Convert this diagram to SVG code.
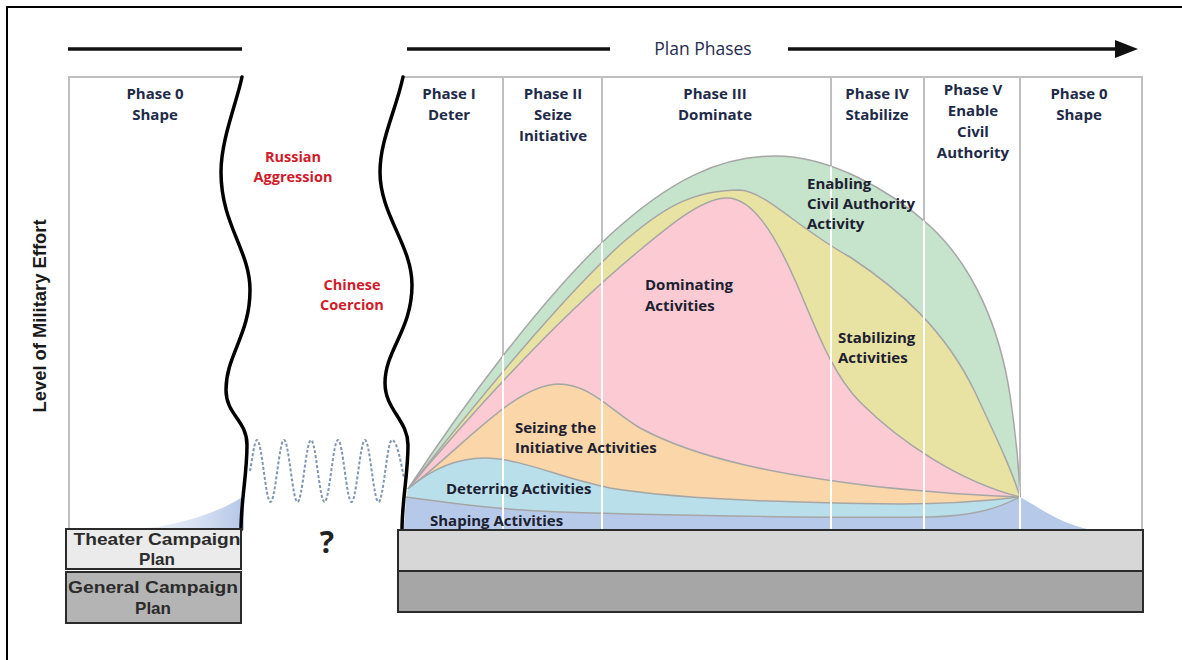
<svg xmlns="http://www.w3.org/2000/svg" width="1182" height="660" viewBox="0 0 1182 660">
  <style>
    .ph{font-family:"Open Sans","Noto Sans",sans-serif;font-weight:700;font-size:15px;fill:#1d2a48;text-anchor:middle}
    .act{font-family:"Open Sans","Noto Sans",sans-serif;font-weight:700;font-size:15px;fill:#1c2030}
    .red{font-family:"Open Sans","Noto Sans",sans-serif;font-weight:700;font-size:14.5px;fill:#d11a2a;text-anchor:middle}
    .col{stroke:#bfbfbf;stroke-width:2;fill:none}
    .cut{stroke:#ffffff;stroke-width:2;fill:none}
    .edge{fill:none;stroke:#a6a6a6;stroke-width:1.5}
    .wavy{fill:none;stroke:#000;stroke-width:3.5;stroke-linecap:round}
    .bar{stroke:#111;stroke-width:3.5;fill:none}
    .plan{font-family:"Liberation Sans Narrow","Liberation Sans",sans-serif;font-weight:700;font-size:17px;fill:#2b2b2b;text-anchor:middle}
    .box{stroke:#2a2a2a;stroke-width:2}
  </style>
  <defs>
    <marker id="head" markerUnits="userSpaceOnUse" markerWidth="24" markerHeight="20" refX="3" refY="9" orient="auto">
      <path d="M0,0 L23,9 L0,18 Z" fill="#111"/>
    </marker>
    <linearGradient id="tailFade" x1="125" y1="0" x2="244" y2="0" gradientUnits="userSpaceOnUse">
      <stop offset="0" stop-color="#dfe7f4" stop-opacity="0.3"/>
      <stop offset="1" stop-color="#b4c7e7"/>
    </linearGradient>
    <clipPath id="envelope">
      <path d="M408,489 C460,410 540,300 610,235 C670,180 720,156 775,156 C830,156 890,190 930,226 C975,268 1000,330 1010,395 C1016,435 1019,470 1020,497 C1040,508 1060,524 1092,530 L404,530 Z"/>
    </clipPath>
  </defs>

  <rect x="0" y="0" width="1182" height="660" fill="#fff"/>
  <rect id="frame" x="7" y="7" width="1195" height="700" fill="none" stroke="#000" stroke-width="2"/>

  <!-- phase grid -->
  <g id="phase-grid">
    <path class="col" d="M69,530 V77 H242"/>
    <path class="col" d="M403,77 H1142 V530"/>
    <path class="col" d="M503,77 V530 M602,77 V530 M831,77 V530 M924,77 V530 M1020,77 V530"/>
  </g>

  <!-- effort areas, back to front -->
  <g id="area-enabling">
    <path fill="#c6e3cc" d="M408,489 C460,410 540,300 610,235 C670,180 720,156 775,156 C830,156 890,190 930,226 C975,268 1000,330 1010,395 C1016,435 1019,470 1020,497 L1020,530 L404,530 Z"/>
    <path class="edge" d="M408,489 C460,410 540,300 610,235 C670,180 720,156 775,156 C830,156 890,190 930,226 C975,268 1000,330 1010,395 C1016,435 1019,470 1020,497"/>
  </g>
  <g id="area-stabilizing">
    <path fill="#e9e3a3" d="M408,489 C470,410 560,300 620,245 C660,210 690,190 740,190 C765,191 800,230 850,257 C900,290 945,330 975,392 C995,435 1012,470 1020,497 L1020,530 L404,530 Z"/>
    <path class="edge" d="M408,489 C470,410 560,300 620,245 C660,210 690,190 740,190 C765,191 800,230 850,257 C900,290 945,330 975,392 C995,435 1012,470 1020,497"/>
  </g>
  <g id="area-dominating">
    <path fill="#fbcad2" d="M408,489 C470,415 555,320 640,250 C670,225 700,200 725,198 C752,196 775,235 795,280 C812,318 830,372 860,402 C900,442 960,482 1020,497 L1020,530 L404,530 Z"/>
    <path class="edge" d="M408,489 C470,415 555,320 640,250 C670,225 700,200 725,198 C752,196 775,235 795,280 C812,318 830,372 860,402 C900,442 960,482 1020,497"/>
  </g>
  <g id="area-seizing">
    <path fill="#fad6a8" d="M408,489 C465,445 515,385 558,384 C590,384 610,410 640,428 C700,460 780,475 880,487 C950,494 990,496 1020,497 L1020,530 L404,530 Z"/>
    <path class="edge" d="M408,489 C465,445 515,385 558,384 C590,384 610,410 640,428 C700,460 780,475 880,487 C950,494 990,496 1020,497"/>
  </g>
  <g id="area-deterring">
    <path fill="#b9dfea" d="M408,489 C430,470 455,458 485,458 C520,458 560,478 610,488 C680,500 800,503 900,504 C960,504 995,500 1020,497 L1020,530 L404,530 Z"/>
    <path class="edge" d="M408,489 C430,470 455,458 485,458 C520,458 560,478 610,488 C680,500 800,503 900,504 C960,504 995,500 1020,497"/>
  </g>
  <g id="area-shaping">
    <path fill="#b6c9e8" d="M406,497 C450,503 500,510 560,512 C680,516 850,518 930,517 C970,516 995,510 1020,497 C1040,508 1060,524 1092,530 L404,530 Z"/>
    <path class="edge" d="M406,497 C450,503 500,510 560,512 C680,516 850,518 930,517 C970,516 995,510 1020,497"/>
    <path fill="url(#tailFade)" d="M125,530 C165,528 210,518 244,496 L244,530 Z"/>
  </g>

  <!-- phase dividers show white across the filled areas -->
  <g clip-path="url(#envelope)">
    <path class="cut" d="M503,77 V530 M602,77 V530 M831,77 V530 M924,77 V530 M1020,77 V530"/>
  </g>

  <!-- activity labels -->
  <g id="labels-activities">
    <text class="act" x="807" y="189">Enabling</text>
    <text class="act" x="807" y="209">Civil Authority</text>
    <text class="act" x="807" y="229">Activity</text>
    <text class="act" x="645" y="290">Dominating</text>
    <text class="act" x="645" y="311">Activities</text>
    <text class="act" x="838" y="343">Stabilizing</text>
    <text class="act" x="838" y="363">Activities</text>
    <text class="act" x="515" y="433">Seizing the</text>
    <text class="act" x="515" y="453">Initiative Activities</text>
    <text class="act" x="446" y="494">Deterring Activities</text>
    <text class="act" x="430" y="526">Shaping Activities</text>
  </g>

  <!-- gap between the two plans -->
  <g id="gap">
    <path fill="none" stroke="#7f95b0" stroke-width="2" stroke-dasharray="3,2" d="M250,471 C252.4,458 254.5,440 257,440 C261.9,440 265.6,502 270.5,502 S279.1,440 284,440 S292.6,502 297.5,502 S306.1,440 311,440 S319.6,502 324.5,502 S333.1,440 338,440 S346.6,502 351.5,502 S360.1,440 365,440 S373.6,502 378.5,502 S387.1,440 392,440 C396.9,440 401,463 404,478"/>
    <path class="wavy" d="M242,77 C236,105 221,140 221,172 C221,225 250,250 250,290 C250,335 226,355 226,390 C226,415 247,420 247,445 C247,475 241,500 241,530"/>
    <path class="wavy" d="M403,77 C396,110 380,140 380,172 C380,215 412,245 412,285 C412,330 385,350 385,383 C385,410 408,420 408,445 C408,475 402,500 402,530"/>
    <text class="red" x="293" y="162">Russian</text>
    <text class="red" x="293" y="182">Aggression</text>
    <text class="red" x="352" y="290">Chinese</text>
    <text class="red" x="352" y="310">Coercion</text>
    <text x="327" y="553" font-family="'Open Sans','Noto Sans',sans-serif" font-weight="700" font-size="30" fill="#222" text-anchor="middle">?</text>
  </g>

  <!-- phase headings -->
  <g id="phase-0-left"><text class="ph" x="155" y="99">Phase 0</text><text class="ph" x="155" y="120">Shape</text></g>
  <g id="phase-1"><text class="ph" x="449" y="99">Phase I</text><text class="ph" x="449" y="120">Deter</text></g>
  <g id="phase-2"><text class="ph" x="553" y="99">Phase II</text><text class="ph" x="553" y="120">Seize</text><text class="ph" x="553" y="141">Initiative</text></g>
  <g id="phase-3"><text class="ph" x="715" y="99">Phase III</text><text class="ph" x="715" y="120">Dominate</text></g>
  <g id="phase-4"><text class="ph" x="877" y="99">Phase IV</text><text class="ph" x="877" y="120">Stabilize</text></g>
  <g id="phase-5"><text class="ph" x="973" y="95">Phase V</text><text class="ph" x="973" y="116">Enable</text><text class="ph" x="973" y="137">Civil</text><text class="ph" x="973" y="158">Authority</text></g>
  <g id="phase-0-right"><text class="ph" x="1079" y="99">Phase 0</text><text class="ph" x="1079" y="120">Shape</text></g>

  <!-- axis -->
  <g id="axis">
    <text transform="translate(46,316) rotate(-90)" font-family="'Liberation Sans Narrow','Liberation Sans',sans-serif" font-weight="700" font-size="18" fill="#1a1a1a" text-anchor="middle" textLength="193" lengthAdjust="spacingAndGlyphs">Level of Military Effort</text>
  </g>

  <!-- plan bars and phase arrow -->
  <g id="connectors">
    <line class="bar" x1="68" y1="49" x2="242" y2="49"/>
    <line class="bar" x1="407" y1="49" x2="610" y2="49"/>
    <line class="bar" x1="788" y1="49" x2="1118" y2="49" marker-end="url(#head)"/>
  </g>
  <g id="plan-phases">
    <text x="703" y="55" font-family="'Open Sans','Noto Sans',sans-serif" font-size="17.5" fill="#1f2b4c" text-anchor="middle">Plan Phases</text>
  </g>

  <!-- campaign plan boxes -->
  <g id="theater-plan">
    <rect class="box" x="66" y="529" width="175" height="40" fill="#ebebeb"/>
    <text class="plan" x="157" y="545" textLength="167" lengthAdjust="spacingAndGlyphs">Theater Campaign</text>
    <text class="plan" x="157" y="565">Plan</text>
  </g>
  <g id="general-plan">
    <rect class="box" x="66" y="572" width="175" height="51" fill="#b4b4b4"/>
    <text class="plan" x="153" y="593" textLength="170" lengthAdjust="spacingAndGlyphs">General Campaign</text>
    <text class="plan" x="153" y="614">Plan</text>
  </g>
  <g id="theater-plan-band">
    <rect class="box" x="398" y="530" width="745" height="41" fill="#d7d7d7"/>
  </g>
  <g id="general-plan-band">
    <rect class="box" x="398" y="571" width="745" height="41" fill="#a6a6a6"/>
  </g>
</svg>
